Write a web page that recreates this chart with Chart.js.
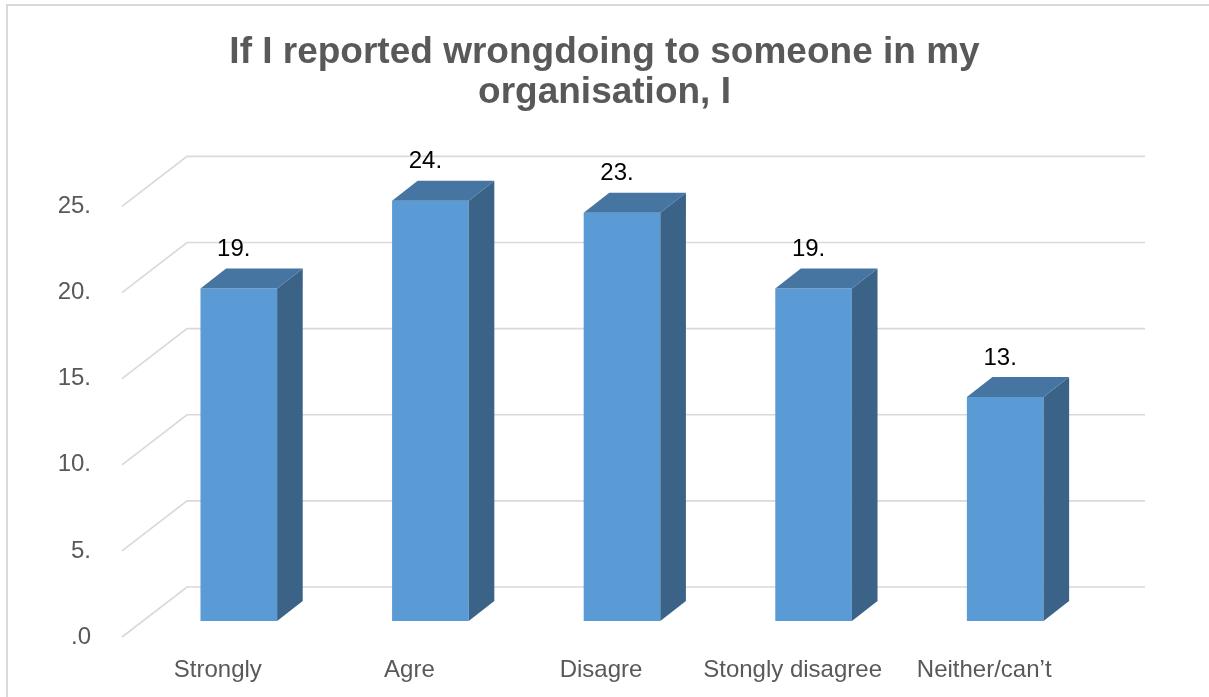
<!DOCTYPE html>
<html>
<head>
<meta charset="utf-8">
<title>If I reported wrongdoing to someone in my organisation, I</title>
<script src="https://cdn.jsdelivr.net/npm/chart.js@4/dist/chart.umd.min.js"></script>
<style>
  html, body { margin: 0; padding: 0; background: #ffffff; }
  #wrap { width: 1209px; height: 697px; position: relative; }
</style>
</head>
<body>
<div id="wrap"><canvas id="chart"></canvas></div>
<script>
// Survey answers
const categories = ['Strongly', 'Agre', 'Disagre', 'Stongly disagree', 'Neither/can\u2019t'];
const values = [19.3, 24.4, 23.7, 19.3, 13.0];
const yTickLabels = ['.0', '5.', '10.', '15.', '20.', '25.'];
const titleLines = ['If I reported wrongdoing to someone in my', 'organisation, I'];

// Oblique 3D look: floor depth, where the bars stand in it, and bar depth
const FLOOR = { dx: 65, dy: -50 };
const BAR_SHIFT = { dx: 21, dy: -16 };
const BAR_DEPTH = { dx: 25.6, dy: -20 };

const COLORS = {
  front: '#5B9BD5',
  side: '#3A6387',
  top: '#4675A2',
  grid: '#D9D9D9',
  text: '#595959',
  label: '#000000'
};
const FONT = "'Liberation Sans', Arial, Helvetica, sans-serif";

const box3d = {
  id: 'box3d',
  beforeDraw(chart) {
    const ctx = chart.ctx;
    ctx.save();
    ctx.fillStyle = '#ffffff';
    ctx.fillRect(0, 0, chart.width, chart.height);
    // chart frame
    ctx.strokeStyle = COLORS.grid;
    ctx.lineWidth = 2;
    ctx.strokeRect(7, 5, chart.width + 40, chart.height + 40);
    ctx.restore();
  },
  beforeDatasetsDraw(chart) {
    const ctx = chart.ctx;
    const ys = chart.scales.y;
    const area = chart.chartArea;
    ctx.save();
    ctx.strokeStyle = COLORS.grid;
    ctx.lineWidth = 1.6;
    ys.ticks.forEach(t => {
      const y = ys.getPixelForValue(t.value);
      ctx.beginPath();
      ctx.moveTo(area.left, y);
      ctx.lineTo(area.left + FLOOR.dx, y + FLOOR.dy);
      ctx.lineTo(area.right + FLOOR.dx, y + FLOOR.dy);
      ctx.stroke();
    });
    ctx.restore();
    // bars stand part-way into the floor
    ctx.save();
    ctx.translate(BAR_SHIFT.dx, BAR_SHIFT.dy);
  },
  afterDatasetsDraw(chart) {
    const ctx = chart.ctx;
    ctx.restore();
    const meta = chart.getDatasetMeta(0);
    const data = chart.data.datasets[0].data;
    ctx.save();
    meta.data.forEach((bar, i) => {
      const p = bar.getProps(['x', 'y', 'base', 'width'], true);
      const left = p.x - p.width / 2 + BAR_SHIFT.dx;
      const right = p.x + p.width / 2 + BAR_SHIFT.dx;
      const top = p.y + BAR_SHIFT.dy;
      const bottom = p.base + BAR_SHIFT.dy;
      // side face
      ctx.fillStyle = COLORS.side;
      ctx.beginPath();
      ctx.moveTo(right, top);
      ctx.lineTo(right + BAR_DEPTH.dx, top + BAR_DEPTH.dy);
      ctx.lineTo(right + BAR_DEPTH.dx, bottom + BAR_DEPTH.dy);
      ctx.lineTo(right, bottom);
      ctx.closePath();
      ctx.fill();
      // top face
      ctx.fillStyle = COLORS.top;
      ctx.beginPath();
      ctx.moveTo(left, top);
      ctx.lineTo(left + BAR_DEPTH.dx, top + BAR_DEPTH.dy);
      ctx.lineTo(right + BAR_DEPTH.dx, top + BAR_DEPTH.dy);
      ctx.lineTo(right, top);
      ctx.closePath();
      ctx.fill();
      // value label
      ctx.fillStyle = COLORS.label;
      ctx.font = '24px ' + FONT;
      ctx.textAlign = 'center';
      ctx.textBaseline = 'middle';
      ctx.fillText(Math.trunc(data[i]) + '.', (left + right) / 2 - 5, top - 39);
    });
    ctx.restore();
  }
};

new Chart(document.getElementById('chart'), {
  type: 'bar',
  data: {
    labels: categories,
    datasets: [{
      data: values,
      backgroundColor: COLORS.front,
      borderWidth: 0,
      barPercentage: 0.4,
      categoryPercentage: 1.0,
      clip: false
    }]
  },
  options: {
    responsive: true,
    maintainAspectRatio: false,
    animation: false,
    layout: { padding: 0 },
    plugins: {
      legend: { display: false },
      tooltip: { enabled: false },
      title: {
        display: true,
        text: titleLines,
        color: COLORS.text,
        font: { family: FONT, size: 37, weight: 'bold', lineHeight: 1.1 },
        padding: { top: 32, bottom: 93 }
      }
    },
    scales: {
      x: {
        grid: { display: false, drawTicks: false },
        border: { display: false },
        ticks: {
          color: COLORS.text,
          font: { family: FONT, size: 24 },
          padding: 19,
          maxRotation: 0,
          minRotation: 0,
          autoSkip: false
        },
        afterFit(scale) { scale.height = 60; }
      },
      y: {
        min: 0,
        max: 25,
        grid: { display: false, drawTicks: false },
        border: { display: false },
        ticks: {
          stepSize: 5,
          color: COLORS.text,
          font: { family: FONT, size: 24 },
          padding: 31,
          callback: (value, index) => yTickLabels[index]
        },
        afterFit(scale) { scale.width = 122; }
      },
      // empty right-hand strip where the back wall runs out
      depth: {
        type: 'linear',
        position: 'right',
        min: 0,
        max: 25,
        grid: { display: false, drawTicks: false },
        border: { display: false },
        ticks: { display: false },
        afterFit(scale) { scale.width = 129; }
      }
    }
  },
  plugins: [box3d]
});
</script>
</body>
</html>
